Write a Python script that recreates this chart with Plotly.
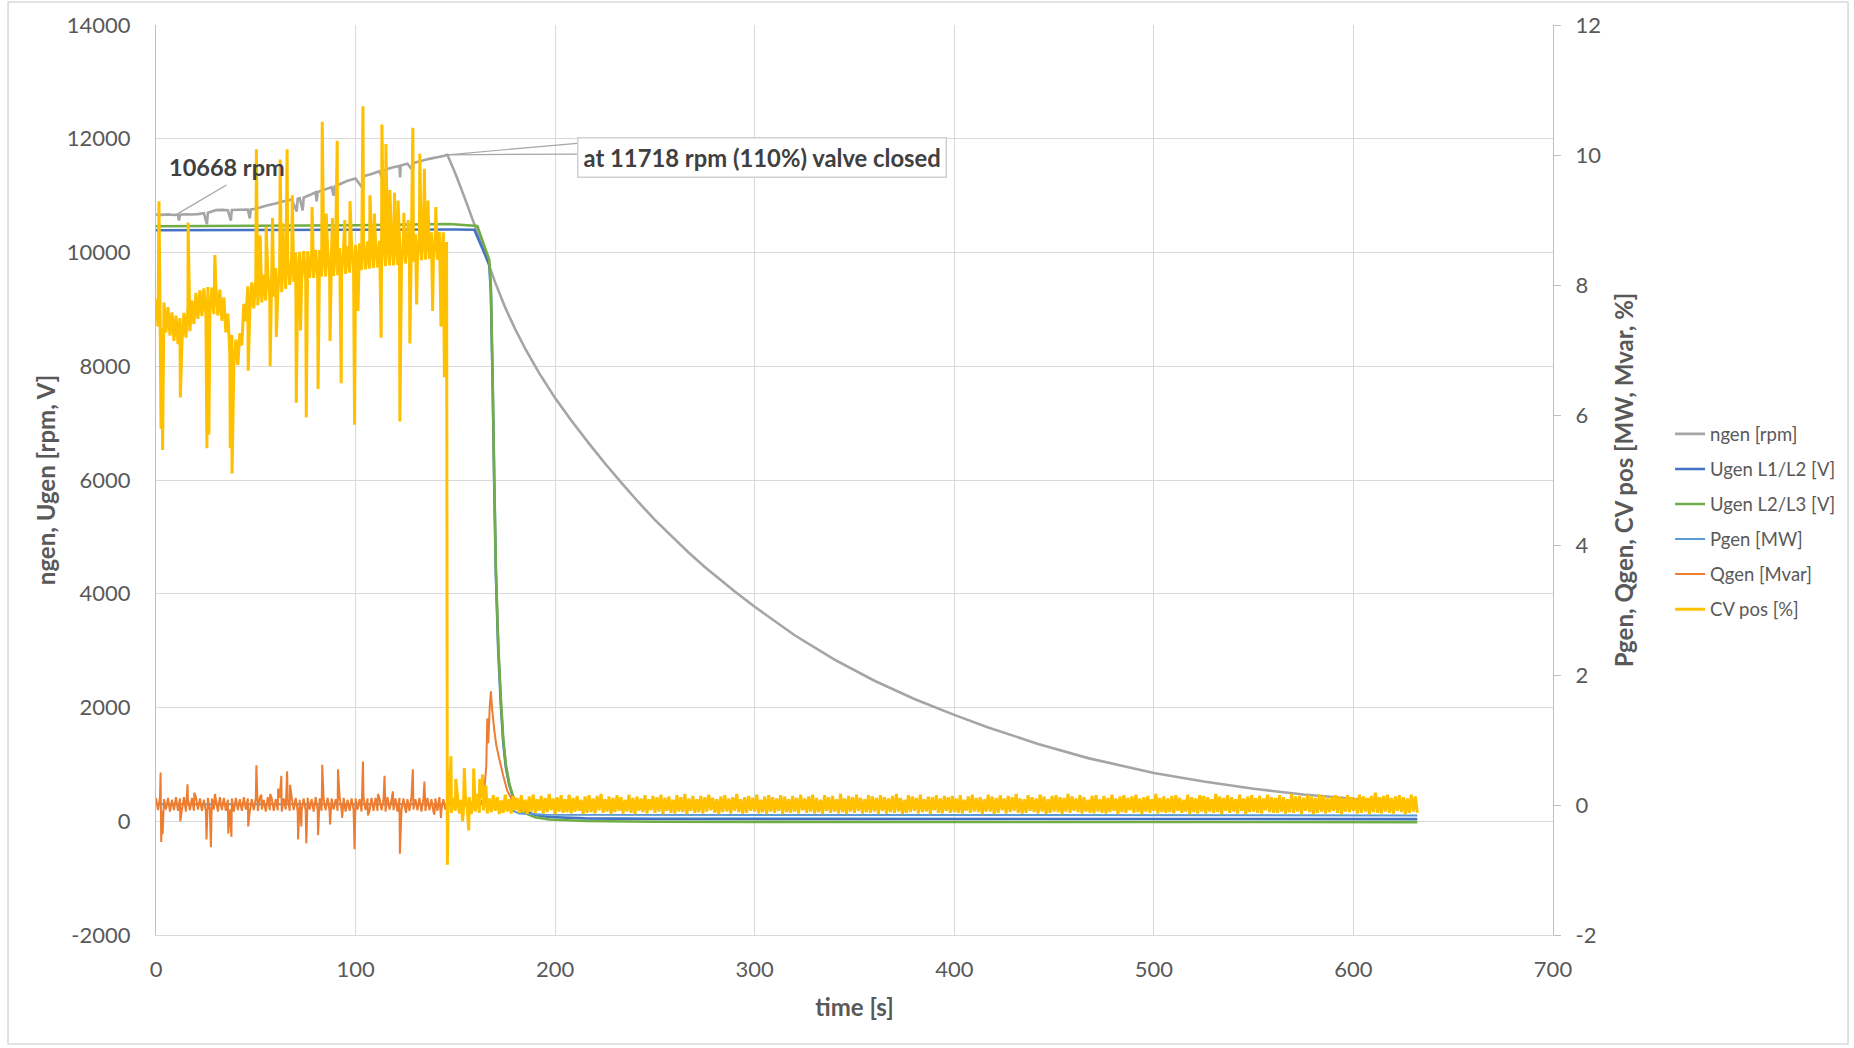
import plotly.graph_objects as go

# ---------------- data ----------------
# generator speed [rpm] (left axis)
ngen_t = [0, 3, 6, 9, 11, 11.5, 12, 15, 18, 21, 24, 25.5, 26, 28, 30, 33, 36, 37.5, 38, 42,
          46, 47, 47.5, 50, 53, 56, 60, 64, 68, 70.5, 71, 72, 73.5, 74, 77, 80, 80.5, 81, 84, 88,
          89, 89.5, 92, 96, 100, 103.7, 104, 108, 112, 113.7, 114, 118, 122, 122.3, 122.6, 126,
          128.7, 129, 132, 135, 138, 141, 144, 146, 150, 155, 160, 165, 170, 175, 180, 185, 192,
          200, 208, 217, 225, 234, 242, 250, 259, 267, 275, 290, 300, 320, 340, 360, 380, 400,
          417, 442, 467, 500, 525, 550, 575, 600, 631]
ngen_v = [10668, 10662, 10670, 10660, 10668, 10560, 10665, 10672, 10668, 10675, 10690, 10500,
          10700, 10720, 10745, 10750, 10745, 10560, 10748, 10752, 10755, 10600, 10758, 10770,
          10800, 10830, 10860, 10900, 10930, 10720, 10945, 10955, 10740, 10965, 11010, 11060,
          10900, 11065, 11100, 11150, 11000, 11160, 11200, 11260, 11300, 11120, 11340, 11380,
          11430, 11250, 11445, 11490, 11525, 11320, 11530, 11560, 11440, 11575, 11600, 11630,
          11655, 11675, 11695, 11718, 11390, 10930, 10450, 9960, 9470, 9030, 8650, 8310, 7880,
          7440, 7050, 6640, 6290, 5920, 5600, 5300, 4990, 4720, 4470, 4040, 3770, 3270, 2840,
          2470, 2150, 1870, 1650, 1360, 1110, 850, 700, 570, 470, 395, 330]

# generator voltages [V] (left axis)
u12_t = [0, 50, 100, 150, 159.5, 167, 167.8, 168.7, 169.5, 170.3, 171.5, 172.8, 174, 175.3,
         177, 178.7, 181, 183.7, 190, 197, 215, 250, 632]
u12_v = [10390, 10395, 10400, 10405, 10400, 9790, 9300, 7650, 5900, 4350, 3000, 2050, 1380, 950,
         640, 450, 280, 190, 110, 75, 50, 42, 38]
u23_t = [0, 50, 100, 147, 161, 167, 167.8, 168.7, 169.5, 170.3, 171.5, 172.8, 174, 175.3, 177,
         178.7, 181, 183.7, 190, 197, 215, 250, 632]
u23_v = [10462, 10470, 10480, 10500, 10465, 9870, 9400, 7750, 6000, 4450, 3100, 2150, 1450, 1000,
         660, 460, 270, 160, 70, 30, 5, -10, -15]

# active power [MW] (right axis)
pgen_t = [0, 146, 166, 170, 176, 182, 195, 632]
pgen_v = [0.01, 0.01, 0.02, 0.06, -0.05, -0.13, -0.15, -0.16]

# reactive power [Mvar] (right axis)
qgen_pre_v = [  # t = 0 .. 145 s, 1 s steps
    0.11, -0.08, 0.12, -0.09, 0.09, -0.07, 0.11, -0.10, 0.08, -0.08,
    0.12, -0.09, 0.10, -0.07, 0.12, -0.10, 0.09, -0.08, 0.11, -0.09,
    0.12, -0.07, 0.10, -0.09, 0.08, -0.10, 0.11, -0.08, 0.10, -0.07,
    0.09, -0.10, 0.12, -0.08, 0.11, -0.09, 0.08, -0.07, 0.10, -0.10,
    0.11, -0.08, 0.09, -0.09, 0.12, -0.07, 0.10, -0.10, 0.09, -0.08,
    0.10, -0.09, 0.11, -0.07, 0.08, -0.10, 0.12, -0.08, 0.10, -0.09,
    0.09, -0.08, 0.11, -0.10, 0.10, -0.07, 0.09, -0.09, 0.12, -0.08,
    0.11, -0.10, 0.08, -0.08, 0.10, -0.09, 0.11, -0.07, 0.09, -0.10,
    0.12, -0.08, 0.10, -0.09, 0.09, -0.08, 0.11, -0.10, 0.10, -0.07,
    0.09, -0.09, 0.12, -0.08, 0.11, -0.10, 0.08, -0.09, 0.10, -0.08,
    0.10, -0.07, 0.09, -0.10, 0.12, -0.08, 0.10, -0.09, 0.11, -0.09,
    0.11, -0.09, 0.10, -0.08, 0.09, -0.10, 0.12, -0.07, 0.08, -0.08,
    0.10, -0.10, 0.11, -0.09, 0.10, -0.08, 0.09, -0.09, 0.12, -0.07,
    0.09, -0.08, 0.11, -0.10, 0.10, -0.09, 0.11, -0.08, 0.09, -0.10,
    0.10, -0.09, 0.12, -0.08, 0.09, -0.07]
qgen_spike_t = [2.3, 2.6, 3.3, 12.2, 15.8, 19.2, 25.3, 27.5, 29.5, 36.2, 37.8, 46.2, 50.3, 52.8,
                57.2, 61.2, 62.8, 65.7, 67.2, 71.2, 72.8, 75.3, 81.2, 83.3, 87.2, 91.2, 93.3, 99.5,
                103.7, 106.2, 111.2, 114.5, 118.7, 122.2, 125.3, 128.7, 134.5, 139.5, 142.8]
qgen_spike_v = [0.50, -0.57, -0.45, -0.25, 0.32, 0.19, -0.53, -0.65, 0.17, -0.44, -0.49, -0.33,
                0.61, 0.16, 0.17, 0.25, 0.45, 0.52, 0.31, -0.53, -0.33, -0.59, -0.465, 0.62, -0.30,
                0.55, -0.20, -0.68, 0.67, -0.16, 0.17, 0.45, 0.21, -0.75, -0.12, 0.55, 0.36, -0.15,
                -0.20]
qgen_mid_v = [0.05, -0.04, 0.06, -0.05, 0.04, -0.03, 0.07, -0.05, 0.05, -0.04, 0.06, -0.06,
              0.05, -0.04, 0.07, -0.05, 0.06]  # t = 147 .. 163 s
qgen_peak_t = [164, 165.5, 166, 166.5, 167.2, 167.8, 168.5, 169.5, 170.5, 172, 174, 176, 178, 180]
qgen_peak_v = [0.05, 0.60, 1.33, 0.95, 1.50, 1.75, 1.45, 1.15, 0.92, 0.71, 0.45, 0.22, 0.10, 0.03]
qgen_tail_t = [185, 230, 280, 330, 380, 430, 480, 530, 580, 632]
qgen_tail_v = [0.02, 0.01, 0.00, 0.02, 0.01, 0.01, 0.00, 0.02, 0.01, 0.01]

# control valve position [%] (right axis)
cv_pre_v = [  # t = 0 .. 145 s, 1 s steps
    7.78, 7.36, 7.75, 7.34, 7.73, 7.27, 7.66, 7.22, 7.58, 7.14,
    7.53, 7.09, 7.49, 7.11, 7.57, 7.19, 7.66, 7.29, 7.76, 7.40,
    7.88, 7.48, 7.92, 7.52, 7.95, 7.54, 7.97, 7.56, 7.96, 7.55,
    7.96, 7.53, 7.93, 7.45, 7.81, 7.27, 7.56, 6.94, 7.23, 6.75,
    7.16, 6.77, 7.26, 7.07, 7.71, 7.44, 7.98, 7.59, 8.04, 7.64,
    8.09, 7.69, 8.13, 7.73, 8.16, 7.76, 8.20, 7.79, 8.23, 7.82,
    8.26, 7.85, 8.29, 7.89, 8.34, 7.94, 8.39, 8.00, 8.45, 8.05,
    8.50, 8.08, 8.51, 8.09, 8.52, 8.10, 8.52, 8.11, 8.53, 8.11,
    8.54, 8.12, 8.54, 8.13, 8.55, 8.13, 8.55, 8.14, 8.56, 8.14,
    8.56, 8.15, 8.57, 8.16, 8.58, 8.17, 8.60, 8.19, 8.61, 8.20,
    8.62, 8.21, 8.64, 8.23, 8.66, 8.24, 8.67, 8.25, 8.67, 8.26,
    8.68, 8.27, 8.68, 8.28, 8.69, 8.29, 8.70, 8.30, 8.71, 8.30,
    8.71, 8.31, 8.72, 8.32, 8.74, 8.33, 8.75, 8.35, 8.76, 8.36,
    8.78, 8.37, 8.79, 8.38, 8.80, 8.39, 8.81, 8.40, 8.81, 8.40,
    8.81, 8.39, 8.82, 8.40, 8.81, 8.41]
cv_spike_t = [1.5, 2.5, 3.3, 12.2, 16.1, 25.5, 26.5, 29.5, 37.2, 38.1, 46.2, 50.3, 52.2, 57.2,
              58.4, 62.2, 65.7, 68.3, 70.3, 75.3, 78.2, 81.2, 83.3, 87.2, 88.4, 90.8, 92.8, 97.2,
              99.5, 103.7, 107.2, 112.8, 113.2, 115.2, 117.2, 119.5, 122.2, 124.2, 127.2, 128.7,
              132.2, 134.5, 140.2, 142.8, 144.5, 55.2, 60.3, 63.5, 72.4, 85.3, 94.6, 101.2, 109.4,
              121.3, 126.4, 130.6, 136.3, 138.6]
cv_spike_v = [9.29, 5.79, 5.46, 6.27, 8.96, 5.49, 5.70, 8.46, 5.49, 5.10, 6.68, 10.09, 8.76, 6.75,
              9.03, 9.93, 10.09, 9.38, 6.19, 5.96, 9.20, 6.40, 10.51, 7.14, 9.03, 10.22, 6.49, 9.29,
              5.85, 10.75, 9.38, 7.19, 10.47, 10.17, 9.46, 9.42, 5.90, 9.11, 7.10, 10.42, 10.02,
              9.79, 9.20, 7.36, 6.58, 8.90, 7.20, 8.95, 7.30, 9.10, 9.00, 7.60, 9.10, 9.30, 9.00,
              7.70, 9.30, 7.60]
cv_close_t = [145.6, 146.0, 146.4]
cv_close_v = [8.66, -0.92, 0.12]
cv_post_v = [  # t = 147 .. 632 s, 1 s steps
    0.15, -0.12, 0.11, -0.09, 0.16, -0.13, 0.08, -0.11, 0.14, -0.07, 0.12, -0.14, 0.09, -0.10, 0.17, -0.12, 0.11, -0.08,
    0.13, -0.13, 0.10, -0.11, 0.15, -0.09, 0.12, -0.14, 0.07, -0.12, 0.16, -0.10, 0.09, -0.13, 0.14, -0.08, 0.11, -0.12,
    0.15, -0.11, 0.08, -0.14, 0.13, -0.10, 0.16, -0.12, 0.09, -0.09, 0.14, -0.13, 0.11, -0.11, 0.17, -0.08, 0.10, -0.14,
    0.12, -0.10, 0.15, -0.12, 0.09, -0.11, 0.16, -0.13, 0.11, -0.10, 0.14, -0.09, 0.08, -0.14, 0.13, -0.12, 0.15, -0.11,
    0.10, -0.13, 0.14, -0.08, 0.17, -0.12, 0.09, -0.10, 0.13, -0.14, 0.11, -0.11, 0.15, -0.09, 0.12, -0.13, 0.08, -0.10,
    0.16, -0.12, 0.11, -0.14, 0.13, -0.09, 0.10, -0.11, 0.15, -0.13, 0.09, -0.08, 0.14, -0.12, 0.12, -0.10, 0.16, -0.14,
    0.11, -0.09, 0.13, -0.12, 0.08, -0.13, 0.15, -0.10, 0.12, -0.11, 0.17, -0.14, 0.10, -0.09, 0.14, -0.12, 0.09, -0.11,
    0.14, -0.13, 0.12, -0.10, 0.16, -0.08, 0.11, -0.12, 0.09, -0.14, 0.13, -0.11, 0.15, -0.10, 0.10, -0.13, 0.12, -0.09,
    0.17, -0.11, 0.09, -0.13, 0.12, -0.12, 0.14, -0.09, 0.11, -0.10, 0.16, -0.13, 0.08, -0.11, 0.13, -0.14, 0.15, -0.10,
    0.12, -0.12, 0.10, -0.09, 0.15, -0.14, 0.13, -0.11, 0.09, -0.12, 0.14, -0.10, 0.11, -0.13, 0.16, -0.08, 0.10, -0.12,
    0.13, -0.10, 0.16, -0.13, 0.11, -0.11, 0.08, -0.14, 0.15, -0.09, 0.12, -0.12, 0.14, -0.10, 0.09, -0.13, 0.17, -0.11,
    0.10, -0.14, 0.14, -0.10, 0.12, -0.12, 0.16, -0.09, 0.11, -0.13, 0.09, -0.11, 0.15, -0.12, 0.13, -0.10, 0.11, -0.14,
    0.15, -0.09, 0.12, -0.13, 0.10, -0.11, 0.14, -0.12, 0.17, -0.10, 0.11, -0.14, 0.08, -0.12, 0.15, -0.11, 0.13, -0.09,
    0.11, -0.13, 0.16, -0.11, 0.09, -0.10, 0.13, -0.14, 0.12, -0.08, 0.15, -0.12, 0.10, -0.13, 0.14, -0.09, 0.12, -0.12,
    0.14, -0.11, 0.10, -0.12, 0.15, -0.13, 0.08, -0.09, 0.13, -0.12, 0.16, -0.10, 0.11, -0.11, 0.12, -0.14, 0.09, -0.10,
    0.16, -0.10, 0.13, -0.14, 0.11, -0.12, 0.15, -0.08, 0.10, -0.13, 0.14, -0.11, 0.12, -0.09, 0.17, -0.12, 0.10, -0.13,
    0.09, -0.12, 0.15, -0.09, 0.12, -0.11, 0.10, -0.13, 0.16, -0.10, 0.13, -0.14, 0.09, -0.12, 0.14, -0.10, 0.15, -0.11,
    0.12, -0.14, 0.11, -0.10, 0.17, -0.12, 0.13, -0.09, 0.10, -0.11, 0.15, -0.13, 0.12, -0.10, 0.08, -0.12, 0.14, -0.13,
    0.15, -0.10, 0.09, -0.12, 0.14, -0.13, 0.11, -0.11, 0.16, -0.09, 0.10, -0.14, 0.13, -0.11, 0.15, -0.12, 0.11, -0.08,
    0.13, -0.12, 0.16, -0.11, 0.10, -0.14, 0.12, -0.10, 0.14, -0.12, 0.09, -0.09, 0.17, -0.13, 0.11, -0.11, 0.13, -0.12,
    0.10, -0.11, 0.14, -0.13, 0.15, -0.09, 0.11, -0.12, 0.08, -0.10, 0.16, -0.14, 0.12, -0.11, 0.10, -0.13, 0.15, -0.10,
    0.14, -0.13, 0.12, -0.10, 0.09, -0.12, 0.17, -0.11, 0.13, -0.14, 0.11, -0.09, 0.15, -0.12, 0.12, -0.10, 0.09, -0.13,
    0.16, -0.09, 0.10, -0.14, 0.13, -0.11, 0.15, -0.10, 0.11, -0.12, 0.14, -0.13, 0.10, -0.08, 0.16, -0.11, 0.12, -0.12,
    0.11, -0.12, 0.15, -0.10, 0.12, -0.13, 0.09, -0.11, 0.17, -0.12, 0.13, -0.10, 0.14, -0.14, 0.11, -0.09, 0.15, -0.11,
    0.13, -0.14, 0.11, -0.12, 0.16, -0.10, 0.14, -0.13, 0.10, -0.11, 0.12, -0.09, 0.15, -0.12, 0.13, -0.14, 0.10, -0.10,
    0.15, -0.11, 0.12, -0.09, 0.10, -0.13, 0.16, -0.12, 0.13, -0.10, 0.11, -0.14, 0.14, -0.11, 0.19, -0.12, 0.12, -0.13,
    0.14, -0.10, 0.16, -0.12, 0.11, -0.13, 0.13, -0.09, 0.15, -0.11, 0.12, -0.14, 0.10, -0.12, 0.16, -0.10, 0.13, -0.12]
cv_post_spike_t = [147.8, 150.2, 153.6, 154.5, 156.7, 159.2, 162.2, 163.6, 165.3]
cv_post_spike_v = [0.75, 0.40, -0.25, 0.57, -0.39, 0.56, 0.40, 0.47, 0.30]

# axes ticks
x_ticks = [0, 100, 200, 300, 400, 500, 600, 700]
y_ticks = [-2000, 0, 2000, 4000, 6000, 8000, 10000, 12000, 14000]
y2_ticks = [-2, 0, 2, 4, 6, 8, 10, 12]

# annotation anchors (data units)
label1_text = "10668 rpm"
label1_pos = (35.8, 11500)
label1_leader = ((35.3, 11185), (11.2, 10688))
label2_text = "at 11718 rpm (110%) valve closed"
label2_pos = (211, 11670)
peak_point = (146, 11718)
label2_edge = ((211, 11920), (211, 11730))


def merge(*pairs):
    pts = []
    for ts, vs in pairs:
        pts += list(zip(ts, vs))
    pts.sort(key=lambda p: p[0])
    return [p[0] for p in pts], [p[1] for p in pts]


qgen_t, qgen_v = merge((list(range(len(qgen_pre_v))), qgen_pre_v),
                       (qgen_spike_t, qgen_spike_v),
                       ([147 + i for i in range(len(qgen_mid_v))], qgen_mid_v),
                       (qgen_peak_t, qgen_peak_v),
                       (qgen_tail_t, qgen_tail_v))
cv_t, cv_v = merge((list(range(len(cv_pre_v))), cv_pre_v),
                   (cv_spike_t, cv_spike_v),
                   (cv_close_t, cv_close_v),
                   ([147 + i for i in range(len(cv_post_v))], cv_post_v),
                   (cv_post_spike_t, cv_post_spike_v))

FONT = "Lato"
GRAY_TXT = "#595959"

fig = go.Figure()
left_series = [("ngen [rpm]", ngen_t, ngen_v, "#A5A5A5", 2.6),
               ("Ugen L1/L2 [V]", u12_t, u12_v, "#4472C4", 2.6),
               ("Ugen L2/L3 [V]", u23_t, u23_v, "#70AD47", 2.6)]
right_series = [("Pgen [MW]", pgen_t, pgen_v, "#5B9BD5", 2.0),
                ("Qgen [Mvar]", qgen_t, qgen_v, "#ED7D31", 2.0),
                ("CV pos [%]", cv_t, cv_v, "#FFC000", 3.0)]
for name, t, v, c, w in left_series:
    fig.add_trace(go.Scatter(x=t, y=v, name=name, mode="lines", legendgroup=name,
                             line=dict(color=c, width=w, simplify=False), yaxis="y"))
for name, t, v, c, w in right_series:
    fig.add_trace(go.Scatter(x=t, y=v, name=name, mode="lines", legendgroup=name,
                             line=dict(color=c, width=w, simplify=False), yaxis="y2"))

tickfont = dict(family=FONT, size=22, color=GRAY_TXT)
titlefont = dict(family=FONT, size=24, color=GRAY_TXT)

fig.update_layout(
    width=1854, height=1048,
    margin=dict(l=156, r=301, t=25, b=113, autoexpand=False),
    paper_bgcolor="white", plot_bgcolor="white",
    showlegend=True,
    legend=dict(x=1.0838, xanchor="left", y=0.571, yanchor="top",
                font=dict(family=FONT, size=18.5, color=GRAY_TXT),
                tracegroupgap=8, itemwidth=30, bgcolor="rgba(0,0,0,0)"),
    xaxis=dict(range=[0, 700], tickvals=x_ticks, ticktext=[str(v) for v in x_ticks],
               showgrid=True, gridcolor="#D9D9D9", gridwidth=1.3, zeroline=False,
               showline=True, linecolor="#D9D9D9", linewidth=1.3, ticks="",
               tickfont=tickfont, ticklabelstandoff=14, automargin=False,
               title=dict(text="<b>time [s]</b>", font=titlefont, standoff=18)),
    yaxis=dict(range=[-2000, 14000], tickvals=y_ticks, ticktext=[str(v) for v in y_ticks],
               showgrid=True, gridcolor="#D9D9D9", gridwidth=1.3, zeroline=False,
               showline=True, linecolor="#BFBFBF", linewidth=1.3, ticks="",
               tickfont=tickfont, ticklabelstandoff=20, automargin=False,
               title=dict(text="<b>ngen, Ugen [rpm, V]</b>", font=titlefont, standoff=4)),
    yaxis2=dict(range=[-2, 12], tickvals=y2_ticks, ticktext=[str(v) for v in y2_ticks],
                overlaying="y", side="right", showgrid=False, zeroline=False,
                showline=True, linecolor="#BFBFBF", linewidth=1.3,
                ticks="outside", ticklen=7, tickcolor="#BFBFBF", tickwidth=1.3,
                tickfont=tickfont, ticklabelstandoff=10, automargin=False,
                title=dict(text="<b>Pgen, Qgen, CV pos [MW, Mvar, %]</b>", font=titlefont,
                           standoff=15)),
)

# leader lines
(lx0, ly0), (lx1, ly1) = label1_leader
fig.add_shape(type="line", xref="x", yref="y", x0=lx0, y0=ly0, x1=lx1, y1=ly1,
              line=dict(color="#A6A6A6", width=1.2))
for ex, ey in label2_edge:
    fig.add_shape(type="line", xref="x", yref="y", x0=peak_point[0], y0=peak_point[1],
                  x1=ex, y1=ey, line=dict(color="#A6A6A6", width=1.2))

fig.add_annotation(x=label1_pos[0], y=label1_pos[1], xref="x", yref="y",
                   text="<b>" + label1_text + "</b>", showarrow=False,
                   font=dict(family=FONT, size=23.5, color="#404040"))
fig.add_annotation(x=label2_pos[0], y=label2_pos[1], xref="x", yref="y", xanchor="left",
                   text="<b>" + label2_text + "</b>", showarrow=False,
                   font=dict(family=FONT, size=23.8, color="#404040"),
                   bgcolor="white", bordercolor="#D0D0D0", borderwidth=1.5, borderpad=5)

# outer chart border
fig.add_shape(type="rect", xref="paper", yref="paper", x0=-0.1059, x1=1.2112, y0=-0.1198,
              y1=1.0253, line=dict(color="#D9D9D9", width=1.5), layer="below")

fig.write_html("out.html")
